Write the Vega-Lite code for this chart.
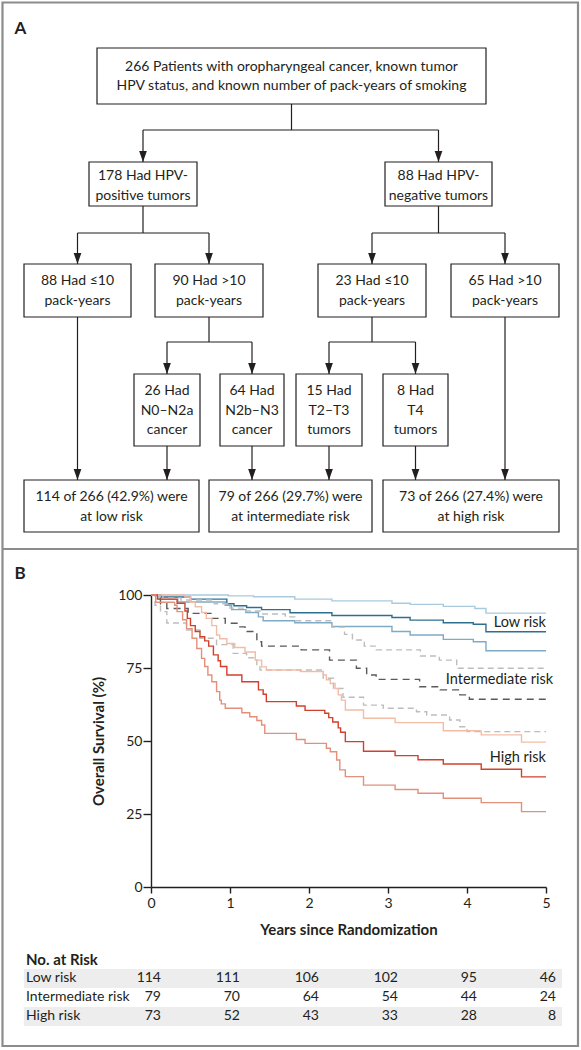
{
  "$schema": "https://vega.github.io/schema/vega-lite/v6.json",
  "width": 395,
  "height": 292,
  "autosize": "none",
  "padding": {"left": 151, "top": 595, "right": 35, "bottom": 163},
  "background": "white",
  "config": {
    "view": {"stroke": null},
    "font": "Lato",
    "text": {"font": "Lato", "color": "#231f20"},
    "axis": {
      "domainColor": "#231f20", "tickColor": "#231f20", "labelColor": "#231f20", "titleColor": "#231f20",
      "domainWidth": 1.4, "tickWidth": 1.4, "labelFont": "Lato", "titleFont": "Lato",
      "labelFontSize": 14, "titleFontSize": 15, "titleFontWeight": "bold", "grid": false
    }
  },
  "datasets": {
    "frame": [{"x1": 0.25, "x2": 57.8, "y1": 0.25, "y2": 104.6}],
    "separator": [{"x1": 0.25, "x2": 57.8, "y": 54.9}],
    "letters": [{"x": 1.45, "y": 2.9, "letter": "A"}, {"x": 1.45, "y": 57.4, "letter": "B"}],
    "boxes": [
      {"x1": 9.7, "x2": 48.6, "y1": 4.8, "y2": 10.4, "tx": 29.15, "ty": 6.65, "label": "266 Patients with oropharyngeal cancer, known tumor\nHPV status, and known number of pack-years of smoking"},
      {"x1": 8.9, "x2": 19.7, "y1": 16.2, "y2": 20.6, "tx": 14.3, "ty": 17.6, "label": "178 Had HPV-\npositive tumors"},
      {"x1": 38.5, "x2": 49.2, "y1": 16.2, "y2": 20.6, "tx": 43.85, "ty": 17.6, "label": "88 Had HPV-\nnegative tumors"},
      {"x1": 2.4, "x2": 13.1, "y1": 26.4, "y2": 31.7, "tx": 7.75, "ty": 28.1, "label": "88 Had ≤10\npack-years"},
      {"x1": 15.5, "x2": 26.3, "y1": 26.4, "y2": 31.7, "tx": 20.9, "ty": 28.1, "label": "90 Had >10\npack-years"},
      {"x1": 31.8, "x2": 42.6, "y1": 26.4, "y2": 31.7, "tx": 37.2, "ty": 28.1, "label": "23 Had ≤10\npack-years"},
      {"x1": 45.1, "x2": 55.9, "y1": 26.4, "y2": 31.7, "tx": 50.5, "ty": 28.1, "label": "65 Had >10\npack-years"},
      {"x1": 13.4, "x2": 20.0, "y1": 37.4, "y2": 44.6, "tx": 16.7, "ty": 39.1, "label": "26 Had\nN0–N2a\ncancer"},
      {"x1": 22.0, "x2": 28.4, "y1": 37.4, "y2": 44.6, "tx": 25.2, "ty": 39.1, "label": "64 Had\nN2b–N3\ncancer"},
      {"x1": 29.6, "x2": 36.2, "y1": 37.4, "y2": 44.6, "tx": 32.9, "ty": 39.1, "label": "15 Had\nT2–T3\ntumors"},
      {"x1": 38.3, "x2": 44.8, "y1": 37.4, "y2": 44.6, "tx": 41.55, "ty": 39.1, "label": "8 Had\nT4\ntumors"},
      {"x1": 2.4, "x2": 19.9, "y1": 48.0, "y2": 53.2, "tx": 11.15, "ty": 49.7, "label": "114 of 266 (42.9%) were\nat low risk"},
      {"x1": 20.9, "x2": 37.2, "y1": 48.0, "y2": 53.2, "tx": 29.05, "ty": 49.7, "label": "79 of 266 (29.7%) were\nat intermediate risk"},
      {"x1": 38.3, "x2": 55.9, "y1": 48.0, "y2": 53.2, "tx": 47.1, "ty": 49.7, "label": "73 of 266 (27.4%) were\nat high risk"}
    ],
    "links": [
      {"x": 29.15, "y": 10.4, "x2": 29.15, "y2": 13.0, "arrow": false},
      {"x": 14.3, "y": 13.0, "x2": 43.85, "y2": 13.0, "arrow": false},
      {"x": 14.3, "y": 13.0, "x2": 14.3, "y2": 16.2, "arrow": true},
      {"x": 43.85, "y": 13.0, "x2": 43.85, "y2": 16.2, "arrow": true},
      {"x": 14.3, "y": 20.6, "x2": 14.3, "y2": 23.3, "arrow": false},
      {"x": 7.75, "y": 23.3, "x2": 20.9, "y2": 23.3, "arrow": false},
      {"x": 7.75, "y": 23.3, "x2": 7.75, "y2": 26.4, "arrow": true},
      {"x": 20.9, "y": 23.3, "x2": 20.9, "y2": 26.4, "arrow": true},
      {"x": 43.85, "y": 20.6, "x2": 43.85, "y2": 23.3, "arrow": false},
      {"x": 37.2, "y": 23.3, "x2": 50.5, "y2": 23.3, "arrow": false},
      {"x": 37.2, "y": 23.3, "x2": 37.2, "y2": 26.4, "arrow": true},
      {"x": 50.5, "y": 23.3, "x2": 50.5, "y2": 26.4, "arrow": true},
      {"x": 20.9, "y": 31.7, "x2": 20.9, "y2": 34.2, "arrow": false},
      {"x": 16.7, "y": 34.2, "x2": 25.2, "y2": 34.2, "arrow": false},
      {"x": 16.7, "y": 34.2, "x2": 16.7, "y2": 37.4, "arrow": true},
      {"x": 25.2, "y": 34.2, "x2": 25.2, "y2": 37.4, "arrow": true},
      {"x": 37.2, "y": 31.7, "x2": 37.2, "y2": 34.2, "arrow": false},
      {"x": 32.9, "y": 34.2, "x2": 41.55, "y2": 34.2, "arrow": false},
      {"x": 32.9, "y": 34.2, "x2": 32.9, "y2": 37.4, "arrow": true},
      {"x": 41.55, "y": 34.2, "x2": 41.55, "y2": 37.4, "arrow": true},
      {"x": 7.75, "y": 31.7, "x2": 7.75, "y2": 48.0, "arrow": true},
      {"x": 50.5, "y": 31.7, "x2": 50.5, "y2": 48.0, "arrow": true},
      {"x": 16.7, "y": 44.6, "x2": 16.7, "y2": 48.0, "arrow": true},
      {"x": 25.2, "y": 44.6, "x2": 25.2, "y2": 48.0, "arrow": true},
      {"x": 32.9, "y": 44.6, "x2": 32.9, "y2": 48.0, "arrow": true},
      {"x": 41.55, "y": 44.6, "x2": 41.55, "y2": 48.0, "arrow": true}
    ],
    "bands": [
      {"x1": 2.4, "x2": 56.2, "y1": 96.9, "y2": 98.8},
      {"x1": 2.4, "x2": 56.2, "y1": 100.7, "y2": 102.6}
    ],
    "rowLabels": [
      {"x": 2.6, "y": 97.8, "label": "Low risk"},
      {"x": 2.6, "y": 99.7, "label": "Intermediate risk"},
      {"x": 2.6, "y": 101.6, "label": "High risk"}
    ],
    "header": [{"x": 2.6, "y": 96.0, "label": "No. at Risk"}],
    "atRisk": [
      {"group": "Low risk", "row": 97.8, "t": 0, "n": 114}, {"group": "Low risk", "row": 97.8, "t": 1, "n": 111},
      {"group": "Low risk", "row": 97.8, "t": 2, "n": 106}, {"group": "Low risk", "row": 97.8, "t": 3, "n": 102},
      {"group": "Low risk", "row": 97.8, "t": 4, "n": 95}, {"group": "Low risk", "row": 97.8, "t": 5, "n": 46},
      {"group": "Intermediate risk", "row": 99.7, "t": 0, "n": 79}, {"group": "Intermediate risk", "row": 99.7, "t": 1, "n": 70},
      {"group": "Intermediate risk", "row": 99.7, "t": 2, "n": 64}, {"group": "Intermediate risk", "row": 99.7, "t": 3, "n": 54},
      {"group": "Intermediate risk", "row": 99.7, "t": 4, "n": 44}, {"group": "Intermediate risk", "row": 99.7, "t": 5, "n": 24},
      {"group": "High risk", "row": 101.6, "t": 0, "n": 73}, {"group": "High risk", "row": 101.6, "t": 1, "n": 52},
      {"group": "High risk", "row": 101.6, "t": 2, "n": 43}, {"group": "High risk", "row": 101.6, "t": 3, "n": 33},
      {"group": "High risk", "row": 101.6, "t": 4, "n": 28}, {"group": "High risk", "row": 101.6, "t": 5, "n": 8}
    ],
    "curveLabels": [
      {"t": 5.0, "s": 90.4, "label": "Low risk"},
      {"t": 5.09, "s": 70.9, "label": "Intermediate risk"},
      {"t": 5.0, "s": 44.2, "label": "High risk"}
    ],
    "km": [
      {"series": "Low upper", "t": 0, "s": 100}, {"series": "Low upper", "t": 0.98, "s": 99.7}, {"series": "Low upper", "t": 1.3, "s": 99.4},
      {"series": "Low upper", "t": 1.82, "s": 98.6}, {"series": "Low upper", "t": 2.29, "s": 98.0}, {"series": "Low upper", "t": 3.05, "s": 97.2},
      {"series": "Low upper", "t": 3.28, "s": 96.8}, {"series": "Low upper", "t": 3.7, "s": 96.1}, {"series": "Low upper", "t": 4.1, "s": 95.4},
      {"series": "Low upper", "t": 4.24, "s": 93.8}, {"series": "Low upper", "t": 5, "s": 93.8},
      {"series": "Low", "t": 0, "s": 100}, {"series": "Low", "t": 0.13, "s": 99.3}, {"series": "Low", "t": 0.5, "s": 98.6},
      {"series": "Low", "t": 0.96, "s": 97.0}, {"series": "Low", "t": 1.05, "s": 96.3}, {"series": "Low", "t": 1.21, "s": 95.7},
      {"series": "Low", "t": 1.4, "s": 95.0}, {"series": "Low", "t": 1.76, "s": 93.9}, {"series": "Low", "t": 2.29, "s": 93.0},
      {"series": "Low", "t": 3.05, "s": 92.3}, {"series": "Low", "t": 3.28, "s": 91.4}, {"series": "Low", "t": 3.7, "s": 90.5},
      {"series": "Low", "t": 4.08, "s": 90.0}, {"series": "Low", "t": 4.24, "s": 87.4}, {"series": "Low", "t": 5, "s": 87.4},
      {"series": "Low lower", "t": 0, "s": 100}, {"series": "Low lower", "t": 0.1, "s": 98.5}, {"series": "Low lower", "t": 0.34, "s": 97.6},
      {"series": "Low lower", "t": 0.94, "s": 96.5}, {"series": "Low lower", "t": 1.02, "s": 95.0}, {"series": "Low lower", "t": 1.2, "s": 94.0},
      {"series": "Low lower", "t": 1.36, "s": 92.5}, {"series": "Low lower", "t": 1.42, "s": 91.2}, {"series": "Low lower", "t": 1.82, "s": 90.5},
      {"series": "Low lower", "t": 2.29, "s": 89.2}, {"series": "Low lower", "t": 3.05, "s": 87.5}, {"series": "Low lower", "t": 3.28, "s": 86.3},
      {"series": "Low lower", "t": 3.7, "s": 84.8}, {"series": "Low lower", "t": 4.08, "s": 84.0}, {"series": "Low lower", "t": 4.24, "s": 80.9},
      {"series": "Low lower", "t": 5, "s": 80.9},
      {"series": "Intermediate upper", "t": 0, "s": 100}, {"series": "Intermediate upper", "t": 0.15, "s": 99.0}, {"series": "Intermediate upper", "t": 0.38, "s": 98.3},
      {"series": "Intermediate upper", "t": 0.8, "s": 97.0}, {"series": "Intermediate upper", "t": 1.0, "s": 95.5}, {"series": "Intermediate upper", "t": 1.2, "s": 94.5},
      {"series": "Intermediate upper", "t": 1.4, "s": 93.5}, {"series": "Intermediate upper", "t": 1.7, "s": 92.5}, {"series": "Intermediate upper", "t": 1.82, "s": 91.2},
      {"series": "Intermediate upper", "t": 2.29, "s": 89.0}, {"series": "Intermediate upper", "t": 2.45, "s": 86.5}, {"series": "Intermediate upper", "t": 2.55, "s": 84.6},
      {"series": "Intermediate upper", "t": 2.7, "s": 82.5}, {"series": "Intermediate upper", "t": 2.85, "s": 81.2}, {"series": "Intermediate upper", "t": 3.41, "s": 79.1},
      {"series": "Intermediate upper", "t": 3.65, "s": 77.7}, {"series": "Intermediate upper", "t": 3.87, "s": 74.9}, {"series": "Intermediate upper", "t": 5, "s": 74.9},
      {"series": "Intermediate", "t": 0, "s": 100}, {"series": "Intermediate", "t": 0.12, "s": 97.0}, {"series": "Intermediate", "t": 0.2, "s": 95.4},
      {"series": "Intermediate", "t": 0.47, "s": 93.7}, {"series": "Intermediate", "t": 0.77, "s": 92.0}, {"series": "Intermediate", "t": 0.94, "s": 90.3},
      {"series": "Intermediate", "t": 1.11, "s": 89.1}, {"series": "Intermediate", "t": 1.19, "s": 87.5}, {"series": "Intermediate", "t": 1.34, "s": 84.0},
      {"series": "Intermediate", "t": 1.4, "s": 82.5}, {"series": "Intermediate", "t": 1.9, "s": 81.2}, {"series": "Intermediate", "t": 2.26, "s": 77.7},
      {"series": "Intermediate", "t": 2.6, "s": 74.9}, {"series": "Intermediate", "t": 2.73, "s": 72.6}, {"series": "Intermediate", "t": 2.85, "s": 71.1},
      {"series": "Intermediate", "t": 3.4, "s": 68.6}, {"series": "Intermediate", "t": 3.66, "s": 67.5}, {"series": "Intermediate", "t": 3.91, "s": 65.8},
      {"series": "Intermediate", "t": 4.03, "s": 64.3}, {"series": "Intermediate", "t": 5, "s": 64.3},
      {"series": "Intermediate lower", "t": 0, "s": 100}, {"series": "Intermediate lower", "t": 0.05, "s": 96.5}, {"series": "Intermediate lower", "t": 0.12, "s": 94.3},
      {"series": "Intermediate lower", "t": 0.2, "s": 90.4}, {"series": "Intermediate lower", "t": 0.45, "s": 88.0}, {"series": "Intermediate lower", "t": 0.62, "s": 85.2},
      {"series": "Intermediate lower", "t": 0.83, "s": 83.0}, {"series": "Intermediate lower", "t": 1.04, "s": 80.0}, {"series": "Intermediate lower", "t": 1.21, "s": 78.5},
      {"series": "Intermediate lower", "t": 1.34, "s": 75.4}, {"series": "Intermediate lower", "t": 1.38, "s": 74.3}, {"series": "Intermediate lower", "t": 2.18, "s": 71.5},
      {"series": "Intermediate lower", "t": 2.31, "s": 68.0}, {"series": "Intermediate lower", "t": 2.43, "s": 65.0}, {"series": "Intermediate lower", "t": 2.69, "s": 62.3},
      {"series": "Intermediate lower", "t": 2.94, "s": 61.2}, {"series": "Intermediate lower", "t": 3.36, "s": 60.0}, {"series": "Intermediate lower", "t": 3.49, "s": 58.9},
      {"series": "Intermediate lower", "t": 3.78, "s": 57.2}, {"series": "Intermediate lower", "t": 3.91, "s": 54.9}, {"series": "Intermediate lower", "t": 4.0, "s": 53.2},
      {"series": "Intermediate lower", "t": 5, "s": 53.2},
      {"series": "High upper", "t": 0, "s": 100}, {"series": "High upper", "t": 0.43, "s": 99.3}, {"series": "High upper", "t": 0.5, "s": 97.5},
      {"series": "High upper", "t": 0.56, "s": 96.0}, {"series": "High upper", "t": 0.64, "s": 94.0}, {"series": "High upper", "t": 0.7, "s": 92.0},
      {"series": "High upper", "t": 0.77, "s": 89.5}, {"series": "High upper", "t": 0.83, "s": 86.3}, {"series": "High upper", "t": 0.87, "s": 85.0},
      {"series": "High upper", "t": 0.96, "s": 83.4}, {"series": "High upper", "t": 1.06, "s": 82.0}, {"series": "High upper", "t": 1.19, "s": 80.5},
      {"series": "High upper", "t": 1.32, "s": 77.7}, {"series": "High upper", "t": 1.4, "s": 75.4}, {"series": "High upper", "t": 1.46, "s": 74.3},
      {"series": "High upper", "t": 1.89, "s": 73.8}, {"series": "High upper", "t": 2.18, "s": 72.6}, {"series": "High upper", "t": 2.22, "s": 71.0},
      {"series": "High upper", "t": 2.27, "s": 69.7}, {"series": "High upper", "t": 2.33, "s": 68.0}, {"series": "High upper", "t": 2.37, "s": 65.8},
      {"series": "High upper", "t": 2.41, "s": 64.0}, {"series": "High upper", "t": 2.46, "s": 60.6}, {"series": "High upper", "t": 2.69, "s": 57.8},
      {"series": "High upper", "t": 3.09, "s": 56.3}, {"series": "High upper", "t": 3.7, "s": 53.5}, {"series": "High upper", "t": 4.18, "s": 52.1},
      {"series": "High upper", "t": 4.69, "s": 49.6}, {"series": "High upper", "t": 5, "s": 49.6},
      {"series": "High", "t": 0, "s": 100}, {"series": "High", "t": 0.08, "s": 98.6}, {"series": "High", "t": 0.33, "s": 97.2},
      {"series": "High", "t": 0.43, "s": 94.5}, {"series": "High", "t": 0.46, "s": 92.0}, {"series": "High", "t": 0.5, "s": 89.5},
      {"series": "High", "t": 0.56, "s": 87.5}, {"series": "High", "t": 0.62, "s": 85.7}, {"series": "High", "t": 0.68, "s": 84.3},
      {"series": "High", "t": 0.73, "s": 82.5}, {"series": "High", "t": 0.79, "s": 79.5}, {"series": "High", "t": 0.85, "s": 77.5},
      {"series": "High", "t": 0.88, "s": 75.5}, {"series": "High", "t": 0.96, "s": 72.6}, {"series": "High", "t": 1.15, "s": 70.3},
      {"series": "High", "t": 1.36, "s": 67.5}, {"series": "High", "t": 1.42, "s": 66.0}, {"series": "High", "t": 1.46, "s": 63.5},
      {"series": "High", "t": 1.84, "s": 62.0}, {"series": "High", "t": 1.95, "s": 60.5}, {"series": "High", "t": 2.2, "s": 59.5},
      {"series": "High", "t": 2.25, "s": 58.0}, {"series": "High", "t": 2.3, "s": 56.5}, {"series": "High", "t": 2.37, "s": 54.5},
      {"series": "High", "t": 2.4, "s": 53.0}, {"series": "High", "t": 2.46, "s": 49.8}, {"series": "High", "t": 2.69, "s": 46.5},
      {"series": "High", "t": 3.09, "s": 45.0}, {"series": "High", "t": 3.38, "s": 43.6}, {"series": "High", "t": 3.7, "s": 42.1},
      {"series": "High", "t": 4.18, "s": 40.3}, {"series": "High", "t": 4.69, "s": 37.7}, {"series": "High", "t": 5, "s": 37.7},
      {"series": "High lower", "t": 0, "s": 100}, {"series": "High lower", "t": 0.06, "s": 97.5}, {"series": "High lower", "t": 0.3, "s": 96.5},
      {"series": "High lower", "t": 0.33, "s": 94.3}, {"series": "High lower", "t": 0.4, "s": 91.5}, {"series": "High lower", "t": 0.45, "s": 88.5},
      {"series": "High lower", "t": 0.52, "s": 85.2}, {"series": "High lower", "t": 0.58, "s": 81.7}, {"series": "High lower", "t": 0.64, "s": 78.3},
      {"series": "High lower", "t": 0.68, "s": 75.5}, {"series": "High lower", "t": 0.72, "s": 72.6}, {"series": "High lower", "t": 0.77, "s": 70.3},
      {"series": "High lower", "t": 0.83, "s": 66.9}, {"series": "High lower", "t": 0.87, "s": 64.0}, {"series": "High lower", "t": 0.89, "s": 62.7},
      {"series": "High lower", "t": 0.94, "s": 61.2}, {"series": "High lower", "t": 1.15, "s": 59.7}, {"series": "High lower", "t": 1.25, "s": 58.3},
      {"series": "High lower", "t": 1.34, "s": 57.0}, {"series": "High lower", "t": 1.4, "s": 55.5}, {"series": "High lower", "t": 1.44, "s": 52.6},
      {"series": "High lower", "t": 1.84, "s": 50.5}, {"series": "High lower", "t": 1.95, "s": 49.2}, {"series": "High lower", "t": 2.22, "s": 47.5},
      {"series": "High lower", "t": 2.27, "s": 46.3}, {"series": "High lower", "t": 2.35, "s": 43.5}, {"series": "High lower", "t": 2.39, "s": 40.1},
      {"series": "High lower", "t": 2.46, "s": 37.8}, {"series": "High lower", "t": 2.69, "s": 34.9}, {"series": "High lower", "t": 3.09, "s": 33.4},
      {"series": "High lower", "t": 3.38, "s": 32.1}, {"series": "High lower", "t": 3.7, "s": 30.4}, {"series": "High lower", "t": 4.18, "s": 28.9},
      {"series": "High lower", "t": 4.69, "s": 25.8}, {"series": "High lower", "t": 5, "s": 25.8}
    ]
  },
  "layer": [
    {
      "layer": [
        {
          "data": {"name": "frame"},
          "mark": {"type": "rect", "filled": false, "stroke": "#8c8c8c", "strokeWidth": 2.2},
          "encoding": {
            "x": {"field": "x1", "type": "quantitative", "scale": {"domain": [15.1, 54.6], "nice": false, "zero": false}, "axis": null},
            "x2": {"field": "x2"},
            "y": {"field": "y1", "type": "quantitative", "scale": {"domain": [59.5, 88.7], "nice": false, "zero": false, "reverse": true}, "axis": null},
            "y2": {"field": "y2"}
          }
        },
        {
          "data": {"name": "separator"},
          "mark": {"type": "rule", "stroke": "#8c8c8c", "strokeWidth": 2.2},
          "encoding": {
            "x": {"field": "x1", "type": "quantitative", "scale": {"domain": [15.1, 54.6], "nice": false, "zero": false}, "axis": null},
            "x2": {"field": "x2"},
            "y": {"field": "y", "type": "quantitative", "scale": {"domain": [59.5, 88.7], "nice": false, "zero": false, "reverse": true}, "axis": null}
          }
        },
        {
          "data": {"name": "letters"},
          "mark": {"type": "text", "align": "left", "baseline": "middle", "fontSize": 17, "fontWeight": "bold"},
          "encoding": {
            "x": {"field": "x", "type": "quantitative", "scale": {"domain": [15.1, 54.6], "nice": false, "zero": false}, "axis": null},
            "y": {"field": "y", "type": "quantitative", "scale": {"domain": [59.5, 88.7], "nice": false, "zero": false, "reverse": true}, "axis": null},
            "text": {"field": "letter"}
          }
        },
        {
          "data": {"name": "bands"},
          "mark": {"type": "rect", "fill": "#ededed"},
          "encoding": {
            "x": {"field": "x1", "type": "quantitative", "scale": {"domain": [15.1, 54.6], "nice": false, "zero": false}, "axis": null},
            "x2": {"field": "x2"},
            "y": {"field": "y1", "type": "quantitative", "scale": {"domain": [59.5, 88.7], "nice": false, "zero": false, "reverse": true}, "axis": null},
            "y2": {"field": "y2"}
          }
        },
        {
          "data": {"name": "links"},
          "mark": {"type": "rule", "stroke": "#231f20", "strokeWidth": 1.2},
          "encoding": {
            "x": {"field": "x", "type": "quantitative", "scale": {"domain": [15.1, 54.6], "nice": false, "zero": false}, "axis": null},
            "x2": {"field": "x2"},
            "y": {"field": "y", "type": "quantitative", "scale": {"domain": [59.5, 88.7], "nice": false, "zero": false, "reverse": true}, "axis": null},
            "y2": {"field": "y2"}
          }
        },
        {
          "data": {"name": "links"},
          "transform": [{"filter": "datum.arrow"}],
          "mark": {"type": "point", "shape": "M-0.7,-1L0.7,-1L0,1Z", "size": 121, "filled": true, "opacity": 1, "color": "#231f20", "strokeWidth": 0, "yOffset": -5.5},
          "encoding": {
            "x": {"field": "x2", "type": "quantitative", "scale": {"domain": [15.1, 54.6], "nice": false, "zero": false}, "axis": null},
            "y": {"field": "y2", "type": "quantitative", "scale": {"domain": [59.5, 88.7], "nice": false, "zero": false, "reverse": true}, "axis": null}
          }
        },
        {
          "data": {"name": "boxes"},
          "mark": {"type": "rect", "filled": false, "stroke": "#231f20", "strokeWidth": 1.2},
          "encoding": {
            "x": {"field": "x1", "type": "quantitative", "scale": {"domain": [15.1, 54.6], "nice": false, "zero": false}, "axis": null},
            "x2": {"field": "x2"},
            "y": {"field": "y1", "type": "quantitative", "scale": {"domain": [59.5, 88.7], "nice": false, "zero": false, "reverse": true}, "axis": null},
            "y2": {"field": "y2"}
          }
        },
        {
          "data": {"name": "boxes"},
          "mark": {"type": "text", "align": "center", "baseline": "middle", "fontSize": 14, "lineBreak": "\n", "lineHeight": 19.5},
          "encoding": {
            "x": {"field": "tx", "type": "quantitative", "scale": {"domain": [15.1, 54.6], "nice": false, "zero": false}, "axis": null},
            "y": {"field": "ty", "type": "quantitative", "scale": {"domain": [59.5, 88.7], "nice": false, "zero": false, "reverse": true}, "axis": null},
            "text": {"field": "label"}
          }
        },
        {
          "data": {"name": "rowLabels"},
          "mark": {"type": "text", "align": "left", "baseline": "middle", "fontSize": 14},
          "encoding": {
            "x": {"field": "x", "type": "quantitative", "scale": {"domain": [15.1, 54.6], "nice": false, "zero": false}, "axis": null},
            "y": {"field": "y", "type": "quantitative", "scale": {"domain": [59.5, 88.7], "nice": false, "zero": false, "reverse": true}, "axis": null},
            "text": {"field": "label"}
          }
        },
        {
          "data": {"name": "header"},
          "mark": {"type": "text", "align": "left", "baseline": "middle", "fontSize": 15, "fontWeight": "bold"},
          "encoding": {
            "x": {"field": "x", "type": "quantitative", "scale": {"domain": [15.1, 54.6], "nice": false, "zero": false}, "axis": null},
            "y": {"field": "y", "type": "quantitative", "scale": {"domain": [59.5, 88.7], "nice": false, "zero": false, "reverse": true}, "axis": null},
            "text": {"field": "label"}
          }
        }
      ]
    },
    {
      "layer": [
        {
          "data": {"name": "km"},
          "mark": {"type": "line", "interpolate": "step-after", "strokeWidth": 1.4},
          "encoding": {
            "x": {"field": "t", "type": "quantitative", "scale": {"domain": [0, 5], "nice": false, "zero": false},
                  "axis": {"values": [0, 1, 2, 3, 4, 5], "format": "d", "tickSize": 6, "labelPadding": 3, "labelFlush": false, "title": "Years since Randomization", "titlePadding": 12}},
            "y": {"field": "s", "type": "quantitative", "scale": {"domain": [0, 100], "nice": false},
                  "axis": {"values": [0, 25, 50, 75, 100], "tickSize": 8, "labelPadding": 1, "title": "Overall Survival (%)", "titlePadding": 11}},
            "color": {"field": "series", "type": "nominal", "legend": null,
                      "scale": {"domain": ["Intermediate upper", "Intermediate lower", "Intermediate", "Low upper", "Low lower", "Low", "High upper", "High lower", "High"],
                                "range": ["#bdbdbd", "#bdbdbd", "#5a5a5a", "#a9cadd", "#7eaac6", "#2c6f8f", "#f3bca6", "#e3907b", "#d23f2a"]}},
            "strokeDash": {"field": "series", "type": "nominal", "legend": null,
                           "scale": {"domain": ["Intermediate upper", "Intermediate lower", "Intermediate", "Low upper", "Low lower", "Low", "High upper", "High lower", "High"],
                                     "range": [[6, 4], [6, 4], [7, 5], [1, 0], [1, 0], [1, 0], [1, 0], [1, 0], [1, 0]]}}
          }
        },
        {
          "data": {"name": "curveLabels"},
          "mark": {"type": "text", "align": "right", "baseline": "middle", "fontSize": 14.5},
          "encoding": {
            "x": {"field": "t", "type": "quantitative"},
            "y": {"field": "s", "type": "quantitative", "scale": {"domain": [0, 100], "nice": false}, "axis": null},
            "text": {"field": "label"}
          }
        },
        {
          "data": {"name": "atRisk"},
          "mark": {"type": "text", "align": "right", "baseline": "middle", "fontSize": 14, "dx": 10},
          "encoding": {
            "x": {"field": "t", "type": "quantitative"},
            "y": {"field": "row", "type": "quantitative", "scale": {"domain": [59.5, 88.7], "nice": false, "zero": false, "reverse": true}, "axis": null},
            "text": {"field": "n"}
          }
        }
      ],
      "resolve": {"scale": {"y": "independent"}}
    }
  ],
  "resolve": {"scale": {"x": "independent", "y": "independent"}}
}
